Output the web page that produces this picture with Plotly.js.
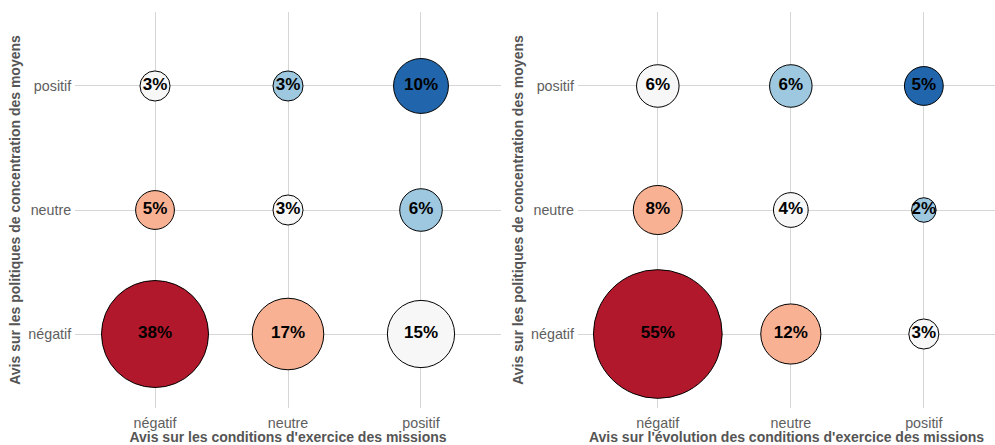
<!DOCTYPE html>
<html>
<head>
<meta charset="utf-8">
<script src="https://cdn.plot.ly/plotly-3.0.1.min.js"></script>
<style>html,body{margin:0;padding:0;background:#fff;}#chart{width:995px;height:445px;}</style>
</head>
<body>
<div id="chart"></div>
<script>
// Categories
var categories = ["négatif", "neutre", "positif"];

// Left panel: conditions d'exercice (x) vs politiques de concentration (y)
var leftX = ["négatif", "neutre", "positif", "négatif", "neutre", "positif", "négatif", "neutre", "positif"];
var leftY = ["positif", "positif", "positif", "neutre", "neutre", "neutre", "négatif", "négatif", "négatif"];
var leftPct = [3, 3, 10, 5, 3, 6, 38, 17, 15];
var leftColorGroup = ["mid", "lightblue", "darkblue", "salmon", "mid", "lightblue", "darkred", "salmon", "mid"];

// Right panel: évolution des conditions (x) vs politiques de concentration (y)
var rightX = ["négatif", "neutre", "positif", "négatif", "neutre", "positif", "négatif", "neutre", "positif"];
var rightY = ["positif", "positif", "positif", "neutre", "neutre", "neutre", "négatif", "négatif", "négatif"];
var rightPct = [6, 6, 5, 8, 4, 2, 55, 12, 3];
var rightColorGroup = ["mid", "lightblue", "darkblue", "salmon", "mid", "lightblue", "darkred", "salmon", "mid"];

var palette = {darkred: "#b2182b", salmon: "#f8b193", mid: "#f7f7f7", lightblue: "#9ec8e0", darkblue: "#2166ac"};

function labels(p) { return p.map(function (v) { return v + "%"; }); }

var markerBase = {sizemode: "area", sizeref: 0.00664, line: {color: "#000000", width: 1}, opacity: 1};
var labelFont = {family: "Liberation Sans, Arial, sans-serif", size: 17, color: "#000000", weight: "bold"};

var traceLeft = {
  type: "scatter", mode: "markers+text",
  x: leftX, y: leftY, xaxis: "x", yaxis: "y",
  text: labels(leftPct), textposition: "middle center",
  textfont: labelFont,
  marker: Object.assign({}, markerBase, {size: leftPct, color: leftColorGroup.map(function (g) { return palette[g]; })}),
  hoverinfo: "x+y+text", showlegend: false, cliponaxis: false
};
var traceRight = {
  type: "scatter", mode: "markers+text",
  x: rightX, y: rightY, xaxis: "x2", yaxis: "y2",
  text: labels(rightPct), textposition: "middle center",
  textfont: labelFont,
  marker: Object.assign({}, markerBase, {size: rightPct, color: rightColorGroup.map(function (g) { return palette[g]; })}),
  hoverinfo: "x+y+text", showlegend: false, cliponaxis: false
};

var tickFont = {family: "Liberation Sans, Arial, sans-serif", size: 14.3, color: "#5e5e5e"};
var titleFont = {family: "Liberation Sans, Arial, sans-serif", size: 14, color: "#555555", weight: "bold"};

function xAxis(domain, range, title, anchor) {
  return {
    domain: domain, range: range, anchor: anchor, type: "category",
    categoryorder: "array", categoryarray: categories,
    showgrid: true, gridcolor: "#d6d6d6", gridwidth: 1,
    zeroline: false, showline: false, ticks: "", ticklen: 0,
    ticklabelstandoff: 4,
    tickfont: tickFont, fixedrange: true,
    title: {text: title, font: titleFont, standoff: 1}
  };
}
function yAxis(domain, title, anchor) {
  return {
    domain: domain, range: [-0.6, 2.6], anchor: anchor, type: "category",
    categoryorder: "array", categoryarray: categories,
    showgrid: true, gridcolor: "#d6d6d6", gridwidth: 1,
    zeroline: false, showline: false, ticks: "", ticklen: 0,
    ticklabelstandoff: 3,
    tickfont: tickFont, fixedrange: true,
    title: {text: title, font: titleFont, standoff: 4}
  };
}

var layout = {
  width: 995, height: 445,
  margin: {l: 0, r: 0, t: 0, b: 0, pad: 0},
  paper_bgcolor: "#ffffff", plot_bgcolor: "#ffffff",
  showlegend: false,
  xaxis: xAxis([0.0756, 0.5033], [-0.6, 2.6], "Avis sur les conditions d'exercice des missions", "y"),
  yaxis: yAxis([0.0822, 0.974], "Avis sur les politiques de concentration des moyens", "x"),
  xaxis2: xAxis([0.5809, 1.0], [-0.6, 2.535], "Avis sur l'évolution des conditions d'exercice des missions", "y2"),
  yaxis2: yAxis([0.0822, 0.974], "Avis sur les politiques de concentration des moyens", "x2")
};

Plotly.newPlot("chart", [traceLeft, traceRight], layout, {displayModeBar: false, staticPlot: true});
</script>
</body>
</html>
